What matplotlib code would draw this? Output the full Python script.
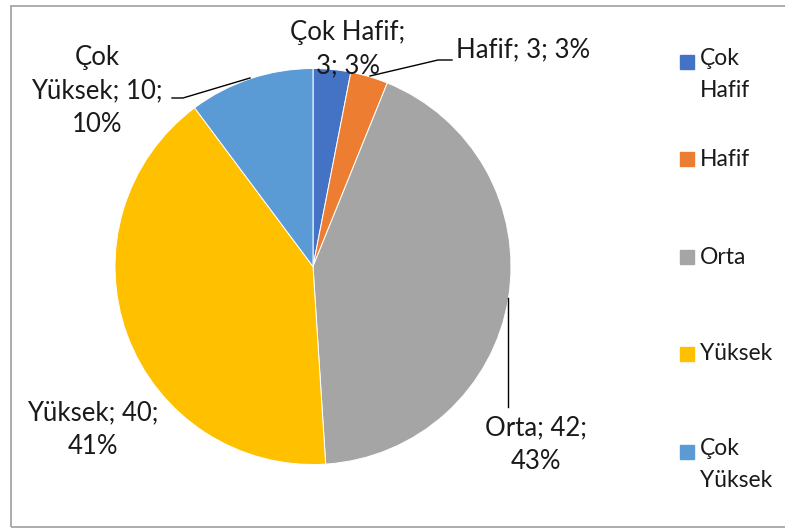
import numpy as np
import matplotlib.pyplot as plt

plt.rcParams['font.family'] = ['Lato', 'DejaVu Sans']

# ---- data ----
categories = ['Çok Hafif', 'Hafif', 'Orta', 'Yüksek', 'Çok Yüksek']
counts = [3, 3, 42, 40, 10]
percents = [3, 3, 43, 41, 10]
colors = ['#4472C4', '#ED7D31', '#A5A5A5', '#FFC000', '#5B9BD5']
legend_labels = ['Çok\nHafif', 'Hafif', 'Orta', 'Yüksek', 'Çok\nYüksek']

W, H = 785, 529
fig = plt.figure(figsize=(W / 100, H / 100), dpi=100)
ax = fig.add_axes([0, 0, 1, 1])


def py(y):
    # top-down pixel row -> data y
    return H - y


cx, cy, r = 313, 266.5, 198
wedges, _ = ax.pie(counts, colors=colors, startangle=90, counterclock=False,
                   center=(cx, py(cy)), radius=r, frame=True,
                   wedgeprops=dict(edgecolor='white', linewidth=0.7))
ax.set_xlim(0, W)
ax.set_ylim(0, H)
ax.axis('off')

# chart frame (right side runs past the canvas)
ax.add_patch(plt.Rectangle((11, py(527)), 790, 521, fill=False,
                           edgecolor='#A6A6A6', linewidth=1.3))

# data labels: (x, y, ha, text)
fs = 18.5
ls = 1.42
label_pos = [
    (348, 49, 'center', f'{categories[0]};\n{counts[0]}; {percents[0]}%'),
    (456, 50, 'left', f'{categories[1]}; {counts[1]}; {percents[1]}%'),
    (536, 445, 'center', f'{categories[2]}; {counts[2]};\n{percents[2]}%'),
    (93, 430, 'center', f'{categories[3]}; {counts[3]};\n{percents[3]}%'),
    (97, 91, 'center', f'Çok\nYüksek; {counts[4]};\n{percents[4]}%'),
]
for x, y, ha, t in label_pos:
    ax.text(x, py(y), t, ha=ha, va='center', fontsize=fs, color='#1a1a1a',
            linespacing=ls)

# leader lines
leaders = [
    [(370, 76), (438, 60), (452, 60)],
    [(508, 298), (508, 407)],
    [(250, 78), (183, 98), (172, 98)],
]
for pts in leaders:
    xs = [p[0] for p in pts]
    ys = [py(p[1]) for p in pts]
    ax.plot(xs, ys, color='black', linewidth=1)

# legend
leg_y = [62, 159, 257, 354, 452]
for col, name, y in zip(colors, legend_labels, leg_y):
    ax.add_patch(plt.Rectangle((680, py(y) - 7), 14, 14, color=col))
    if '\n' in name:
        ax.text(700, py(y) + 14, name, ha='left', va='top', fontsize=16.5,
                color='#1a1a1a', linespacing=1.62)
    else:
        ax.text(700, py(y), name, ha='left', va='center', fontsize=16.5,
                color='#1a1a1a')

fig.savefig('out.png', dpi=100)
